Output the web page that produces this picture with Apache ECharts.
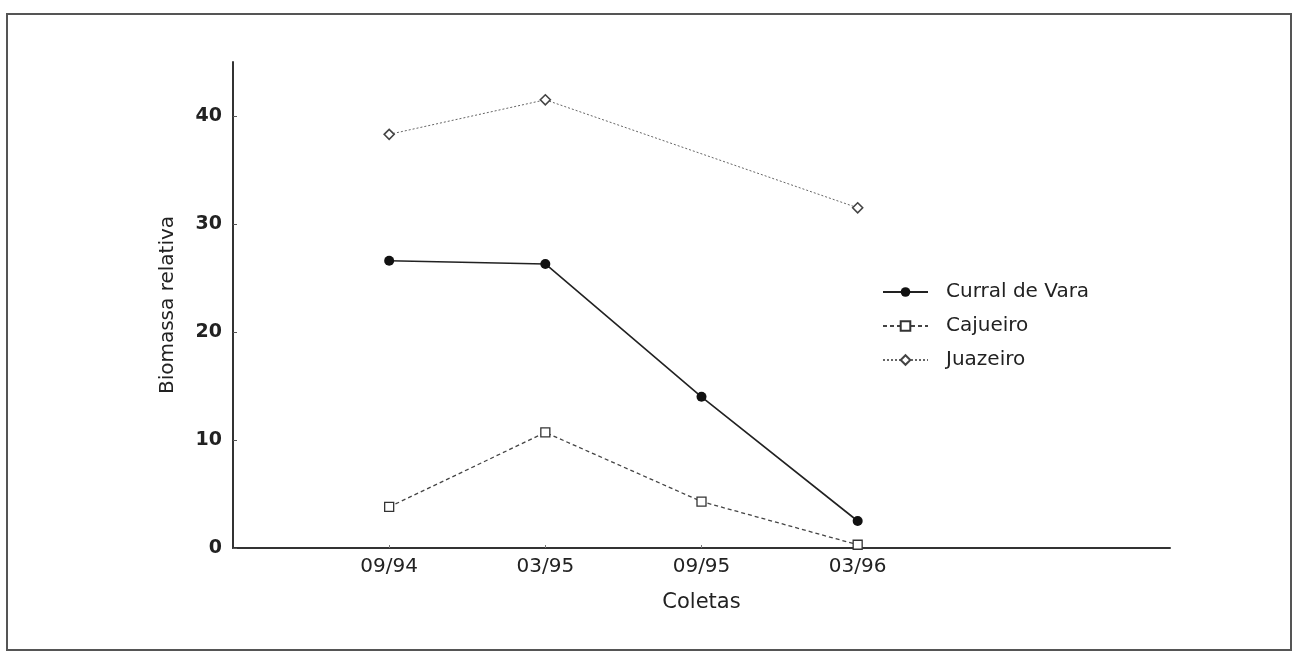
<!DOCTYPE html>
<html>
<head>
<meta charset="utf-8">
<script src="https://cdn.jsdelivr.net/npm/echarts@6/dist/echarts.min.js"></script>
<style>
  html, body { margin: 0; padding: 0; background: #fff; }
  #main { width: 1297px; height: 652px; }
</style>
</head>
<body>
<div id="main"></div>
<script>
// coletas (x positions 1..4 on a 0..6 axis)
const coletas = ["09/94", "03/95", "09/95", "03/96"];
const yTicks = [0, 10, 20, 30, 40];
const curralDeVara = [26.6, 26.3, 14.0, 2.5];
const cajueiro = [3.8, 10.7, 4.3, 0.3];
const juazeiro = [38.3, 41.5, null, 31.5];

const toPairs = arr => arr.map((v, i) => [i + 1, v]);

const chart = echarts.init(document.getElementById("main"));
const textColor = "#222";
const font = "DejaVu Sans, sans-serif";

const option = {
  backgroundColor: "#fff",
  animation: false,
  textStyle: { fontFamily: font, color: textColor },
  graphic: [
    {
      type: "rect",
      shape: { x: 7, y: 14, width: 1284, height: 636 },
      style: { fill: "none", stroke: "#555", lineWidth: 2 }
    }
  ],
  grid: { left: 233, top: 62, right: 127, bottom: 104 },
  legend: {
    orient: "vertical",
    left: 877,
    top: 277,
    itemWidth: 45,
    itemHeight: 12,
    itemGap: 14,
    textStyle: { fontSize: 20, lineHeight: 20, color: textColor, fontFamily: font, padding: [0, 0, 0, 13] },
    data: ["Curral de Vara", "Cajueiro", "Juazeiro"]
  },
  xAxis: {
    type: "value",
    min: 0,
    max: 6,
    name: "Coletas",
    nameLocation: "middle",
    nameGap: 44,
    nameTextStyle: { fontSize: 21, color: textColor },
    axisLine: { lineStyle: { color: "#333", width: 2 } },
    axisTick: { show: true, inside: true, length: 3, customValues: [1, 2, 3, 4], lineStyle: { color: "#777" } },
    axisLabel: {
      customValues: [1, 2, 3, 4],
      formatter: v => coletas[v - 1] || "",
      fontSize: 20,
      color: textColor,
      margin: 9
    },
    splitLine: { show: false }
  },
  yAxis: {
    type: "value",
    min: 0,
    max: 45,
    name: "Biomassa relativa",
    nameLocation: "middle",
    nameGap: 55,
    nameTextStyle: { fontSize: 20, color: textColor },
    axisLine: { show: true, lineStyle: { color: "#333", width: 2 } },
    axisTick: { show: true, inside: true, length: 4, customValues: yTicks, lineStyle: { color: "#555" } },
    axisLabel: {
      customValues: yTicks,
      fontSize: 19,
      fontWeight: "bold",
      color: textColor,
      margin: 11
    },
    splitLine: { show: false }
  },
  series: [
    {
      name: "Curral de Vara",
      type: "line",
      data: toPairs(curralDeVara),
      symbol: "circle",
      symbolSize: 10,
      itemStyle: { color: "#111" },
      lineStyle: { color: "#222", width: 1.6, type: "solid" }
    },
    {
      name: "Cajueiro",
      type: "line",
      data: toPairs(cajueiro),
      symbol: "rect",
      symbolSize: 9,
      itemStyle: { color: "#fff", borderColor: "#333", borderWidth: 1.3 },
      lineStyle: { color: "#444", width: 1.3, type: [4, 3] }
    },
    {
      name: "Juazeiro",
      type: "line",
      data: toPairs(juazeiro),
      connectNulls: true,
      symbol: "diamond",
      symbolSize: 10,
      itemStyle: { color: "#fff", borderColor: "#444", borderWidth: 1.6 },
      lineStyle: { color: "#666", width: 1, type: [2, 2] }
    }
  ]
};

chart.setOption(option);
</script>
</body>
</html>
